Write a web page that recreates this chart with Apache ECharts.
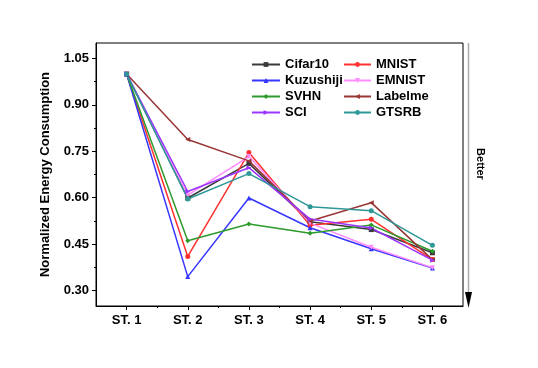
<!DOCTYPE html>
<html lang="en">
<head>
    <meta charset="UTF-8">
    <title>Normalized Energy Consumption</title>
    <script src="https://cdn.jsdelivr.net/npm/echarts@6/dist/echarts.min.js"></script>
    <style>
        *{
            padding:0;
            margin:0;
        }
        html,body{
            background:#fff;
        }
        #main{
            width:538px;
            height:368px;
        }
    </style>
</head>
<body>
<div id="main"></div>
<script>
    // stages on the x axis
    var stages = [1, 2, 3, 4, 5, 6];
    var stageLabels = ['ST. 1', 'ST. 2', 'ST. 3', 'ST. 4', 'ST. 5', 'ST. 6'];
    var yTicks = [0.30, 0.45, 0.60, 0.75, 0.90, 1.05];

    // values
    var cifar10   = [1.0, 0.599, 0.711, 0.522, 0.497, 0.422];
    var mnist     = [1.0, 0.410, 0.746, 0.511, 0.530, 0.400];
    var kuzushiji = [1.0, 0.345, 0.599, 0.503, 0.435, 0.373];
    var emnist    = [1.0, 0.608, 0.733, 0.518, 0.440, 0.374];
    var svhn      = [1.0, 0.461, 0.515, 0.485, 0.512, 0.427];
    var labelme   = [1.0, 0.788, 0.719, 0.525, 0.584, 0.400];
    var sci       = [1.0, 0.620, 0.697, 0.531, 0.502, 0.398];
    var gtsrb     = [1.0, 0.596, 0.678, 0.571, 0.558, 0.446];

    var font = 'Liberation Sans, Arial, sans-serif';

    function pairs(vals){
        var res = [];
        for (var i = 0; i < stages.length; i++) {
            res.push([stages[i], vals[i]]);
        }
        return res;
    }

    function line(name, vals, color, symbol, rot){
        return {
            name: name,
            type: 'line',
            data: pairs(vals),
            symbol: symbol,
            symbolSize: 5,
            symbolRotate: rot || 0,
            lineStyle: {color: color, width: 1.5},
            itemStyle: {color: color},
            animation: false
        };
    }

    // minor tick positions between the majors
    var xMinor = [1.5, 2.5, 3.5, 4.5, 5.5];
    var yMinor = [];
    for (var k = 0; k < yTicks.length - 1; k++) {
        yMinor.push((yTicks[k] + yTicks[k + 1]) / 2);
    }

    var legendText = {fontFamily: font, fontWeight: 'bold', fontSize: 13, color: '#000', lineHeight: 15};

    var myChart = echarts.init(document.getElementById('main'));
    var option = {
        backgroundColor: '#fff',
        grid: {
            left: 96,
            right: 75,
            top: 43,
            bottom: 62,
            show: true,
            borderColor: '#000',
            borderWidth: 1,
            backgroundColor: 'transparent'
        },
        legend: [
            {
                data: ['Cifar10', 'Kuzushiji', 'SVHN', 'SCI'],
                orient: 'vertical',
                left: 251,
                top: 57,
                padding: 0,
                itemWidth: 28,
                itemHeight: 6,
                itemGap: 1,
                textStyle: legendText
            },
            {
                data: ['MNIST', 'EMNIST', 'Labelme', 'GTSRB'],
                orient: 'vertical',
                left: 343,
                top: 57,
                padding: 0,
                itemWidth: 27,
                itemHeight: 6,
                itemGap: 1,
                textStyle: legendText
            }
        ],
        xAxis: [
            {
                type: 'value',
                min: 0.5,
                max: 6.5,
                axisLine: {lineStyle: {color: '#000', width: 1}},
                axisTick: {customValues: stages, length: 4, lineStyle: {color: '#000'}},
                axisLabel: {
                    customValues: stages,
                    formatter: function (v) { return stageLabels[Math.round(v) - 1]; },
                    fontFamily: font, fontWeight: 'bold', fontSize: 13, color: '#000', margin: 8
                },
                splitLine: {show: false}
            },
            {
                type: 'value',
                min: 0.5,
                max: 6.5,
                position: 'bottom',
                axisLine: {show: false},
                axisTick: {customValues: xMinor, length: 2, lineStyle: {color: '#000'}},
                axisLabel: {show: false},
                splitLine: {show: false}
            }
        ],
        yAxis: [
            {
                type: 'value',
                min: 0.25,
                max: 1.10,
                name: 'Normalized Energy Consumption',
                nameLocation: 'middle',
                nameGap: 44,
                nameTextStyle: {fontFamily: font, fontWeight: 'bold', fontSize: 13, color: '#000'},
                axisLine: {show: true, lineStyle: {color: '#000', width: 1}},
                axisTick: {show: true, customValues: yTicks, length: 4, lineStyle: {color: '#000'}},
                axisLabel: {
                    customValues: yTicks,
                    formatter: function (v) { return v.toFixed(2); },
                    fontFamily: font, fontWeight: 'bold', fontSize: 13, color: '#000', margin: 7
                },
                splitLine: {show: false}
            },
            {
                type: 'value',
                min: 0.25,
                max: 1.10,
                position: 'left',
                axisLine: {show: false},
                axisTick: {show: true, customValues: yMinor, length: 2, lineStyle: {color: '#000'}},
                axisLabel: {show: false},
                splitLine: {show: false}
            }
        ],
        graphic: [
            {
                type: 'line',
                shape: {x1: 468.5, y1: 43, x2: 468.5, y2: 296},
                style: {stroke: '#aaa', lineWidth: 1.5}
            },
            {
                type: 'polygon',
                shape: {points: [[465, 292], [472, 292], [468.5, 308]]},
                style: {fill: '#000'}
            },
            {
                type: 'text',
                x: 480,
                y: 164,
                rotation: -Math.PI / 2,
                style: {
                    text: 'Better',
                    fontFamily: font,
                    fontWeight: 'bold',
                    fontSize: 11,
                    fill: '#000',
                    align: 'center',
                    verticalAlign: 'middle'
                }
            }
        ],
        series: [
            line('Cifar10', cifar10, '#3a3a3a', 'rect'),
            line('MNIST', mnist, '#ff3030', 'circle'),
            line('Kuzushiji', kuzushiji, '#3535ff', 'triangle'),
            line('EMNIST', emnist, '#ff8cff', 'triangle', 180),
            line('SVHN', svhn, '#2c9a2c', 'diamond'),
            line('Labelme', labelme, '#9a3535', 'triangle', 90),
            line('SCI', sci, '#9b35ff', 'triangle', -90),
            line('GTSRB', gtsrb, '#2e9898', 'circle')
        ]
    };
    myChart.setOption(option);
</script>
</body>
</html>
